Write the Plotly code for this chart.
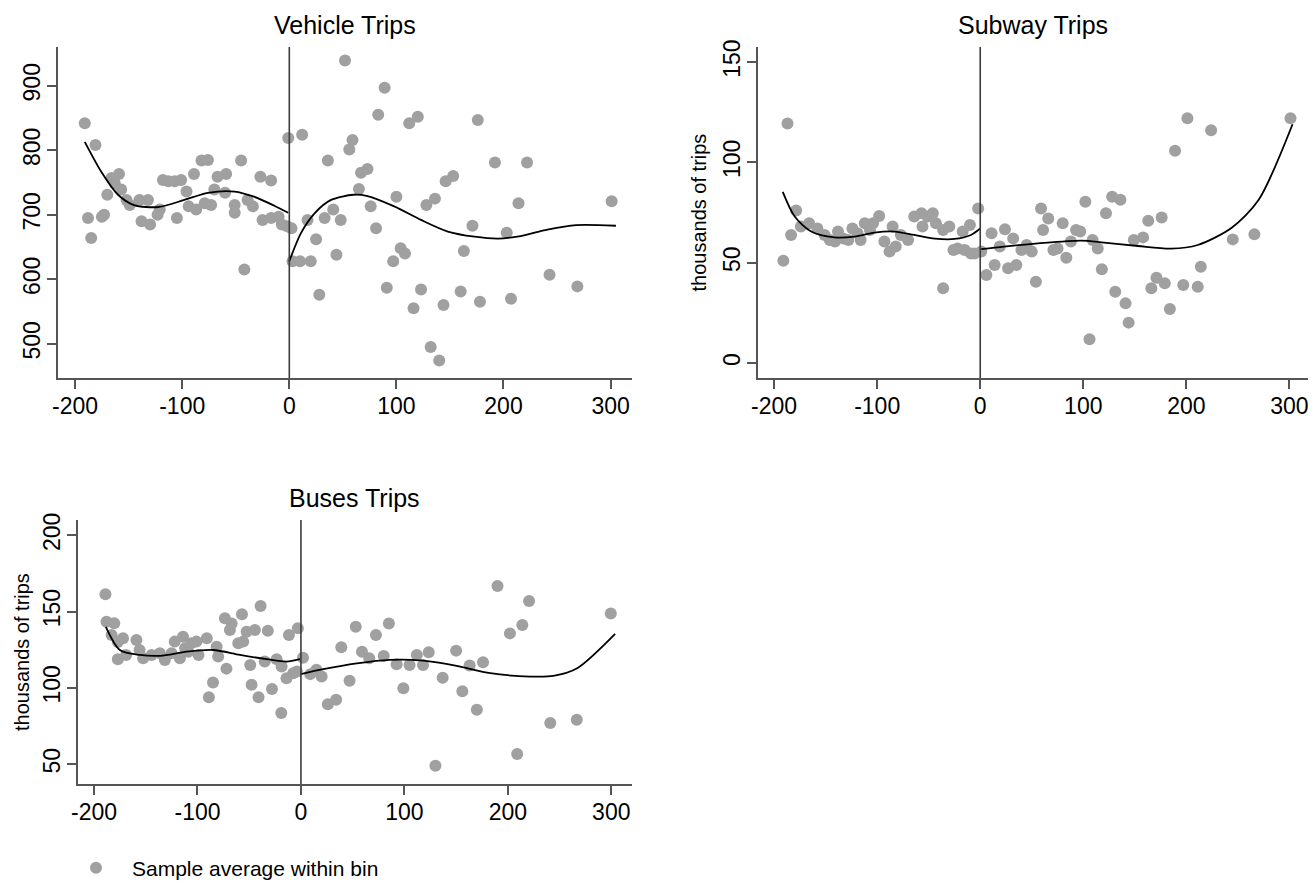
import plotly.graph_objects as go

# ---------------- data ----------------
veh_x = [-191, -181, -188, -185, -175, -173, -170, -166, -159, -163, -157, -152, -149, -140, -132,
         -138, -130, -123, -121, -118, -113, -107, -101, -105, -96, -94, -89, -87, -82, -76, -79,
         -73, -67, -59, -70, -60, -51, -51, -45, -42, -39, -34, -27, -17, -25, -17, -10, -7, -2, -1,
         2, 3, 10, 20, 12, 17, 25, 28, 33, 41, 48, 36, 44, 52, 56, 59, 65, 67, 73, 76, 81, 83, 89,
         91, 97, 100, 104, 108, 112, 120, 116, 123, 128, 136, 132, 140, 144, 146, 153, 160, 163,
         171, 176, 178, 192, 203, 207, 214, 222, 243, 269, 301]
veh_y = [842, 808, 695, 664, 697, 700, 731, 757, 763, 749, 739, 723, 715, 723, 723,
         690, 685, 700, 708, 754, 752, 752, 754, 695, 736, 713, 763, 708, 784, 785, 718,
         715, 759, 763, 739, 734, 715, 703, 784, 615, 723, 713, 759, 753, 692, 695, 697, 685, 682, 819,
         679, 628, 628, 628, 824, 692, 662, 576, 695, 708, 692, 784, 638, 939, 801, 816, 740, 765, 771,
         713, 679, 855, 897, 587, 628, 728, 648, 640, 842, 852, 555, 584, 715, 725, 495, 474, 560,
         752, 760, 581, 644, 683, 847, 565, 781, 672, 570, 718, 781, 607, 589, 721]
veh_fit_left_x = [-191, -175, -160, -145, -122, -98, -76, -51, -33, -14, -1]
veh_fit_left_y = [813, 765, 731, 715, 712, 723, 734, 736, 728, 714, 703]
veh_fit_right_x = [0, 11, 24, 39, 60, 73, 98, 123, 148, 173, 195, 216, 241, 268, 305]
veh_fit_right_y = [628, 672, 703, 723, 731, 729, 713, 692, 674, 666, 663, 667, 677, 684, 683]

sub_x = [-187, -191, -183.5, -178.6, -174, -166, -158, -151, -146, -141, -138, -133, -128, -124,
         -119, -116, -112, -107, -104, -98, -93, -88, -82, -85, -77, -70, -64, -57, -51, -46, -56,
         -43, -36, -30, -26, -22, -15, -9, -36, -17, -10, -2, -5.5,
         1, 6, 11, 14, 19, 24, 27, 35, 32, 40, 45, 50, 54, 59, 61, 66, 71, 75, 80, 83.5, 88, 93, 97,
         102, 106, 109, 114, 118, 122, 128, 136, 131, 141, 144, 149, 158, 163, 166, 171, 179, 176,
         184, 189, 197, 201, 211, 214, 224, 245, 266, 301]
sub_y = [119.4, 51, 63.8, 76, 68, 69.6, 67, 63.8, 61.3, 60.5, 65.5, 62.1, 61.3, 67,
         64.6, 61.3, 69.6, 66.3, 69.6, 73.3, 60.5, 55.5, 58, 68, 63.8, 61.3, 73, 74.6, 73, 74.6, 68,
         69.6, 66.3, 68, 56.3, 57, 56.3, 54.6, 37.2, 65.5, 68.8, 77, 54.6,
         55.5, 43.9, 64.6, 48.8, 58, 66.6, 47.2, 48.8, 62.1, 56.3, 58.8, 55.5, 40.5, 77, 66.3, 72,
         56.3, 57, 69.6, 52.5, 60.5, 66.3, 65.5, 80.4, 11.8, 61.3, 57, 46.7, 74.6, 82.9, 81.3, 35.5,
         29.7, 20.1, 61.3, 62.6, 70.9, 37.2, 42.5, 39.7, 72.5, 26.9, 105.8, 38.9, 122, 38, 48, 116,
         61.6, 64.1, 122]
sub_fit_left_x = [-191.6, -180, -164, -141.5, -122, -102.6, -83, -64, -44, -25, -9, 0]
sub_fit_left_y = [85.3, 73, 65.5, 62.6, 63, 65, 65.5, 63.8, 62, 61.8, 63.8, 67]
sub_fit_right_x = [1, 23, 56, 98, 120, 153, 185, 211, 244, 270, 303]
sub_fit_right_y = [56.7, 58, 59.6, 61, 60, 58.3, 57, 58.8, 67.4, 81.2, 119]

bus_x = [-189, -188, -180.5, -183, -177, -172, -177, -169, -159, -156, -152.5, -144.4, -136.4,
         -131.5, -122, -114, -112, -106, -101, -125, -117, -109, -99, -91, -81.5, -80, -73.5, -67,
         -57, -68.7, -52.5, -44.5, -39, -32, -60.6, -55.8, -72, -85, -89, -49, -47.7, -41, -35, -28,
         -23.5, -18.7, -19, -11.6, -3, -14, -7.5, -4,
         2, 9, 15, 20, 26, 34, 39, 47, 53, 59, 66, 72.5, 80, 85, 92.5, 99, 105, 112, 118, 123.5, 130,
         137, 150, 156, 163, 170, 176, 190, 202, 209, 214, 220.5, 241, 266.6, 299.5]
bus_y = [161.4, 143.3, 142.3, 134.6, 130, 132.5, 118.8, 121.6, 131.4, 124.8, 119.4, 121.6, 122.7,
         118.3, 130.3, 133.5, 125.9, 129.2, 130.3, 122.7, 119.4, 123.7, 121.6, 132.5, 127, 120.5,
         145.6, 142.2, 148.2, 137.9, 136.8, 137.9, 153.6, 137.5, 129.2, 130.3, 112.6, 103.5, 93.9,
         115, 102, 93.9, 117.2, 99.3, 118.8, 114, 83.5, 134.6, 139, 106.3, 109.6, 110.7,
         119.8, 109, 111.8, 107.4, 89.3, 92.2, 126.6, 104.6, 140, 123.7, 119.4, 134.6, 120.9, 142.2,
         115.5, 99.8, 115, 121.6, 115, 123.3, 49, 106.7, 124.4, 97.8, 114.6, 85.6, 116.8, 166.7,
         135.7, 56.7, 141.2, 156.9, 76.9, 79.1, 148.8]
bus_fit_left_x = [-188.6, -175, -155.7, -136, -110.5, -84.8, -59, -33, -14, -1]
bus_fit_left_y = [140, 124.8, 121.6, 121, 123.7, 124.8, 121.6, 118.8, 117.2, 118.8]
bus_fit_right_x = [0, 21.6, 54, 86, 118, 150.6, 183, 221.5, 244, 267, 303.7]
bus_fit_right_y = [109, 112.2, 116, 118.3, 117.8, 114.4, 109.6, 107.4, 107.8, 112.8, 135.3]

titles = ["Vehicle Trips", "Subway Trips", "Buses Trips"]
x_ticks = [-200, -100, 0, 100, 200, 300]
x_tick_text = ["-200", "-100", "0", "100", "200", "300"]
veh_y_ticks = [500, 600, 700, 800, 900]
sub_y_ticks = [0, 50, 100, 150]
bus_y_ticks = [50, 100, 150, 200]
y_title = "thousands of trips"
legend_label = "Sample average within bin"

# ---------------- styling ----------------
W, H = 1314, 888
FONT = "Liberation Sans, Arial, Helvetica, sans-serif"
DOT = "rgb(160,160,160)"
AXC = "rgb(85,85,85)"

fig = go.Figure()

panels = [
    dict(xa="x", ya="y", px=(58, 632), py=(47, 378), xr=[-216, 320], yr=[447, 960],
         yt=veh_y_ticks, pts=(veh_x, veh_y),
         fits=[(veh_fit_left_x, veh_fit_left_y), (veh_fit_right_x, veh_fit_right_y)], ytitle=None),
    dict(xa="x2", ya="y2", px=(758, 1308), py=(47, 378), xr=[-215.6, 318], yr=[-7.5, 157.5],
         yt=sub_y_ticks, pts=(sub_x, sub_y),
         fits=[(sub_fit_left_x, sub_fit_left_y), (sub_fit_right_x, sub_fit_right_y)], ytitle=698),
    dict(xa="x3", ya="y3", px=(78, 632), py=(520, 784), xr=[-215.5, 320], yr=[37, 210],
         yt=bus_y_ticks, pts=(bus_x, bus_y),
         fits=[(bus_fit_left_x, bus_fit_left_y), (bus_fit_right_x, bus_fit_right_y)], ytitle=22),
]

layout_axes = {}
annotations = []
shapes = []
for i, p in enumerate(panels):
    n = "" if i == 0 else str(i + 1)
    fig.add_trace(go.Scatter(x=p["pts"][0], y=p["pts"][1], mode="markers",
                             marker=dict(color=DOT, size=12, line=dict(width=0)),
                             xaxis=p["xa"], yaxis=p["ya"], name=legend_label,
                             showlegend=(i == 0), hoverinfo="x+y"))
    for fx, fy in p["fits"]:
        fig.add_trace(go.Scatter(x=fx, y=fy, mode="lines",
                                 line=dict(color="black", width=1.8, shape="spline", smoothing=0.8),
                                 xaxis=p["xa"], yaxis=p["ya"], showlegend=False, hoverinfo="skip"))
    xd = [p["px"][0] / W, p["px"][1] / W]
    yd = [1 - p["py"][1] / H, 1 - p["py"][0] / H]
    layout_axes["xaxis" + n] = dict(domain=xd, range=p["xr"], anchor=p["ya"], tickvals=x_ticks,
                                    ticktext=x_tick_text, automargin=False, ticklabelstandoff=-2,
                                    showgrid=False, zeroline=False, showline=True, linecolor=AXC,
                                    linewidth=1.5, ticks="outside", ticklen=9, tickwidth=1.5,
                                    tickcolor=AXC, tickfont=dict(family=FONT, size=23, color="black"),
                                    fixedrange=True)
    layout_axes["yaxis" + n] = dict(domain=yd, range=p["yr"], anchor=p["xa"], tickvals=p["yt"],
                                    ticktext=[str(v) for v in p["yt"]], automargin=False,
                                    showgrid=False, zeroline=False, showline=True, linecolor=AXC,
                                    linewidth=1.5, ticks="outside", ticklen=9, tickwidth=1.5,
                                    tickcolor=AXC, tickangle=-90, ticklabelstandoff=-2,
                                    tickfont=dict(family=FONT, size=23, color="black"),
                                    fixedrange=True)
    # cutoff line at x = 0
    shapes.append(dict(type="line", xref=p["xa"], yref=p["ya"] + " domain", x0=0, x1=0, y0=0, y1=1,
                       line=dict(color="rgb(60,60,60)", width=1.6)))
    annotations.append(dict(text=titles[i], xref="paper", yref="paper", x=sum(xd) / 2,
                            y=yd[1] + 6 / H, xanchor="center", yanchor="bottom", showarrow=False,
                            font=dict(family=FONT, size=25, color="black")))
    if p["ytitle"] is not None:
        annotations.append(dict(text=y_title, xref="paper", yref="paper", x=p["ytitle"] / W,
                                y=sum(yd) / 2, xanchor="center", yanchor="middle", textangle=-90,
                                showarrow=False, font=dict(family=FONT, size=20, color="black")))

fig.update_layout(
    width=W, height=H, margin=dict(l=0, r=0, t=0, b=0, autoexpand=False),
    paper_bgcolor="white", plot_bgcolor="white",
    shapes=shapes, annotations=annotations,
    showlegend=True,
    legend=dict(x=60 / W, y=1 - 868 / H, xanchor="left", yanchor="middle", itemwidth=62,
                font=dict(family=FONT, size=21, color="black"), bgcolor="rgba(0,0,0,0)",
                itemsizing="trace"),
    **layout_axes,
)

fig.write_html("out.html", config={"displayModeBar": False},
               post_script="document.body.style.margin='0';document.body.style.overflow='hidden';")
